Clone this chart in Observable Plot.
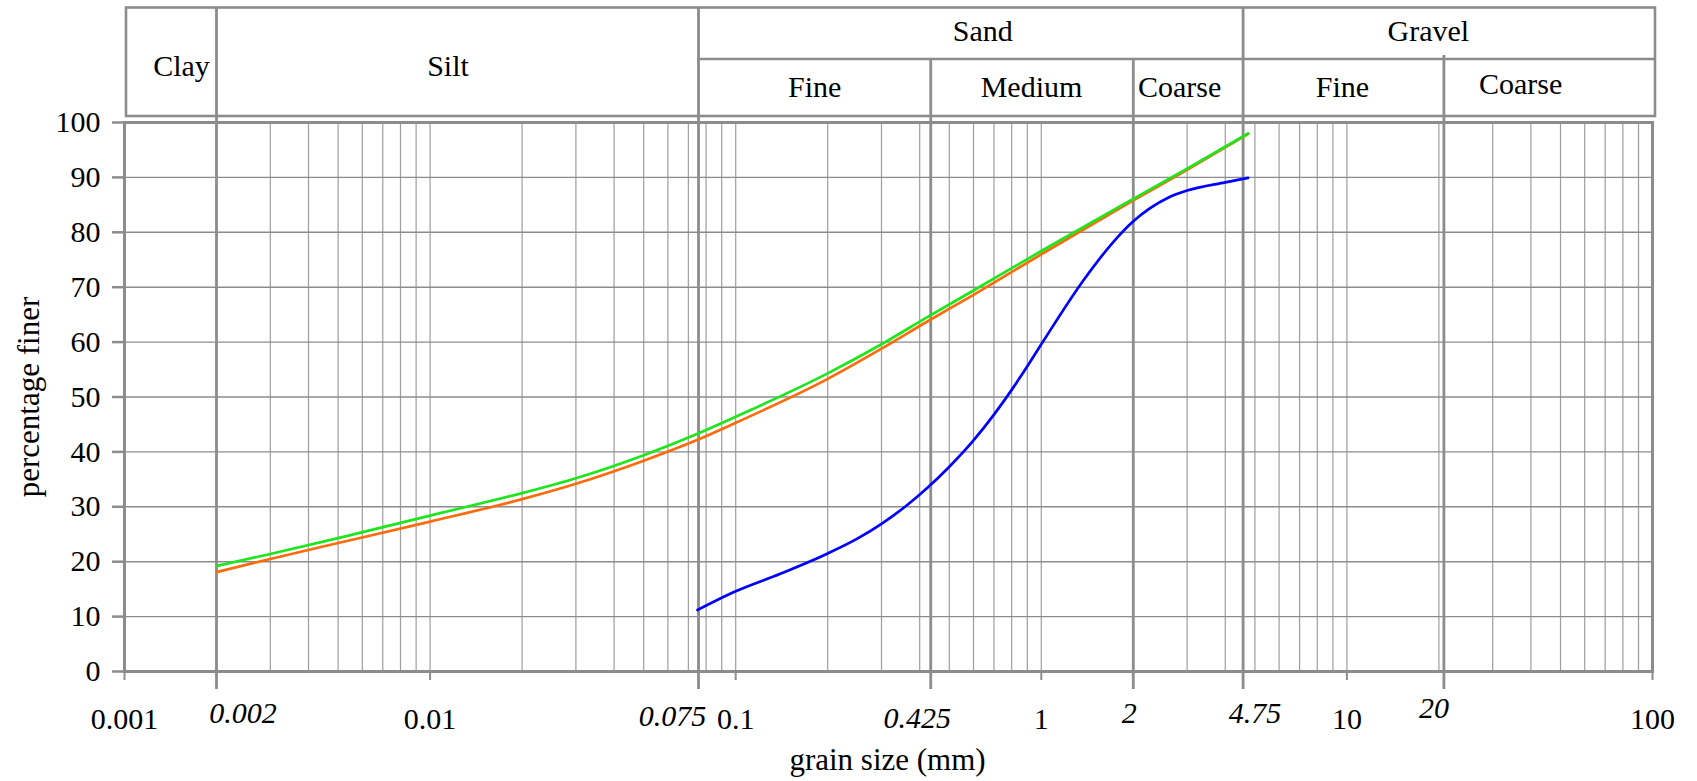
<!DOCTYPE html>
<html>
<head>
<meta charset="utf-8">
<script src="https://cdn.jsdelivr.net/npm/d3@7"></script>
<script src="https://cdn.jsdelivr.net/npm/@observablehq/plot@0.6"></script>
<style>
  html, body { margin: 0; padding: 0; background: #fff; }
  #chart { width: 1697px; height: 781px; }
</style>
</head>
<body>
<div id="chart"></div>
<script>
// ---------------- data ----------------
const sizesFine  = [0.002, 0.003, 0.005, 0.01, 0.02, 0.03, 0.05, 0.075, 0.1, 0.2, 0.3, 0.425, 0.6, 1, 2, 3, 4.75];
const greenPct   = [19.2, 21.4, 24.3, 28.4, 32.5, 35.2, 39.4, 43.3, 46.4, 54.3, 59.6, 64.6, 69.4, 76.6, 86.1, 91.6, 98.0];
const orangePct  = [18.1, 20.5, 23.4, 27.3, 31.4, 34.2, 38.4, 42.2, 45.3, 53.3, 58.8, 63.8, 68.6, 76.0, 85.8, 91.4, 97.9];
const sizesBlue  = [0.075, 0.1, 0.14, 0.2, 0.25, 0.3, 0.36, 0.425, 0.5, 0.6, 0.7, 0.8, 0.9, 1, 1.38, 1.7, 2, 2.6, 3, 4, 4.75];
const bluePct    = [11.2, 14.6, 17.8, 21.5, 24.2, 26.9, 30.1, 33.5, 37.3, 42.1, 46.8, 51.3, 55.6, 59.6, 71.4, 77.9, 82.0, 86.3, 87.6, 89.1, 89.9];

const yTicks       = [0, 10, 20, 30, 40, 50, 60, 70, 80, 90, 100];
const decadeTicks  = [0.001, 0.01, 0.1, 1, 10, 100];
const sieveTicks   = [0.002, 0.075, 0.425, 2, 4.75, 20];
const sieveLabels  = ["0.002", "0.075", "0.425", "2", "4.75", "20"];

const mainClasses  = ["Clay", "Silt", "Sand", "Gravel"];
const mainBounds   = [0.001, 0.002, 0.075, 4.75, 100];
const subClasses   = ["Fine", "Medium", "Coarse", "Fine", "Coarse"];
const subBounds    = [0.075, 0.425, 2, 4.75, 20, 100];

// ---------------- layout ----------------
const W = 1697, H = 781, ML = 124, MR = 45, MT = 122, MB = 110;
const ppu = (H - MT - MB) / 100;              // px per percent
const pxToY = px => (H - MB - px) / ppu;      // page px -> y value (header drawn above the frame)
const decadePx = (W - ML - MR) / 5;
const shift = (v, dx) => v * Math.pow(10, dx / decadePx);

const headerTop = pxToY(7.5), headerMid = pxToY(58.5), headerBot = pxToY(116);
const sieveBottom = pxToY(689);
const sieveTopPx = [7.5, 7.5, 58.5, 58.5, 7.5, 55];
const sieveLineNudge = [0, 1, 3, 0, -5, 5];
const mainBaselinePx = [75, 75, 40, 40];
const mainNudge = [11, -9, 10, -22];
const subBaselinePx = [96, 96, 96, 96, 93];
const subNudge = [2, 1, -11, -1, -25];
const sieveBaselinePx = [722, 725, 727, 722, 722, 717];
const sieveNudge = [26.5, -25, -10.6, -4, 7, -5];

const GRID = "#8c8c8c";
const FONT = "'Liberation Serif', 'Times New Roman', serif";

// ---------------- derived tables ----------------
const green  = sizesFine.map((s, i) => ({s, p: greenPct[i]}));
const orange = sizesFine.map((s, i) => ({s, p: orangePct[i]}));
const blue   = sizesBlue.map((s, i) => ({s, p: bluePct[i]}));

const minor = [];
for (let e = -3; e < 2; e++) for (let m = 1; m < 10; m++) {
  if (e === -3 && m === 1) continue;
  minor.push(+(m * Math.pow(10, e)).toPrecision(3));
}

const sieves = sieveTicks.map((v, i) => ({v, label: sieveLabels[i], top: pxToY(sieveTopPx[i]),
  lineX: shift(v, sieveLineNudge[i]),
  lx: shift(v, sieveNudge[i]), ly: pxToY(sieveBaselinePx[i])}));
const mains = mainClasses.map((c, i) => ({c,
  x: shift(Math.sqrt(mainBounds[i] * mainBounds[i + 1]), mainNudge[i]), y: pxToY(mainBaselinePx[i])}));
const subs = subClasses.map((c, i) => ({c,
  x: shift(Math.sqrt(subBounds[i] * subBounds[i + 1]), subNudge[i]), y: pxToY(subBaselinePx[i])}));

const chart = Plot.plot({
  width: W, height: H,
  marginLeft: ML, marginRight: MR, marginTop: MT, marginBottom: MB,
  style: {fontFamily: FONT, fontSize: "30px", color: "black", background: "white"},
  x: {type: "log", domain: [0.001, 100]},
  y: {domain: [0, 100]},
  marks: [
    // grid
    Plot.ruleX(minor, {y1: 0, y2: 100, stroke: GRID, strokeOpacity: 0.85, strokeWidth: 1.2}),
    Plot.ruleY(yTicks.filter(v => v > 0 && v < 100), {stroke: GRID, strokeWidth: 1.4}),
    // header box
    Plot.rect([{a: shift(0.001, 2), b: shift(100, 3)}], {x1: "a", x2: "b", y1: () => headerBot, y2: () => headerTop,
      fill: "none", stroke: GRID, strokeWidth: 2.6}),
    Plot.ruleY([headerMid], {x1: 0.075, x2: shift(100, 3), stroke: GRID, strokeWidth: 2.6}),
    // sieve dividers
    Plot.ruleX(sieves, {x: "lineX", y1: () => sieveBottom, y2: "top", stroke: GRID, strokeWidth: 2.8}),
    // frame
    Plot.frame({stroke: GRID, strokeWidth: 3}),
    // axes
    Plot.axisY(yTicks, {tickSize: 12, tickPadding: 12, stroke: GRID, strokeWidth: 2.5, fill: "black",
      fontSize: 30, label: null}),
    Plot.axisX(decadeTicks, {tickSize: 9, tickPadding: 27, stroke: GRID, strokeWidth: 2, fill: "black",
      fontSize: 30, tickFormat: d => String(d), label: null}),
    Plot.text(sieves, {x: "lx", y: "ly", text: "label", fontStyle: "italic", fontSize: 30,
      lineAnchor: "bottom", textAnchor: "middle", fill: "black"}),
    // header labels
    Plot.text(mains, {x: "x", y: "y", text: "c", fontSize: 30, lineAnchor: "bottom", fill: "black"}),
    Plot.text(subs, {x: "x", y: "y", text: "c", fontSize: 30, lineAnchor: "bottom", fill: "black"}),
    // curves
    Plot.line(orange, {x: "s", y: "p", stroke: "#ff6a0a", strokeWidth: 2.7, curve: "monotone-x"}),
    Plot.line(green, {x: "s", y: "p", stroke: "#1ee61e", strokeWidth: 2.7, curve: "monotone-x"}),
    Plot.line(blue, {x: "s", y: "p", stroke: "#0000ff", strokeWidth: 2.7, curve: "monotone-x"}),
    // axis titles
    Plot.text(["percentage finer"], {frameAnchor: "left", rotate: -90, dx: -86, lineAnchor: "bottom",
      textAnchor: "middle", fontSize: 31, fill: "black"}),
    Plot.text(["grain size (mm)"], {frameAnchor: "bottom", dy: 98, dx: -1, lineAnchor: "bottom",
      textAnchor: "middle", fontSize: 31, fill: "black"})
  ]
});
document.getElementById("chart").appendChild(chart);
</script>
</body>
</html>
